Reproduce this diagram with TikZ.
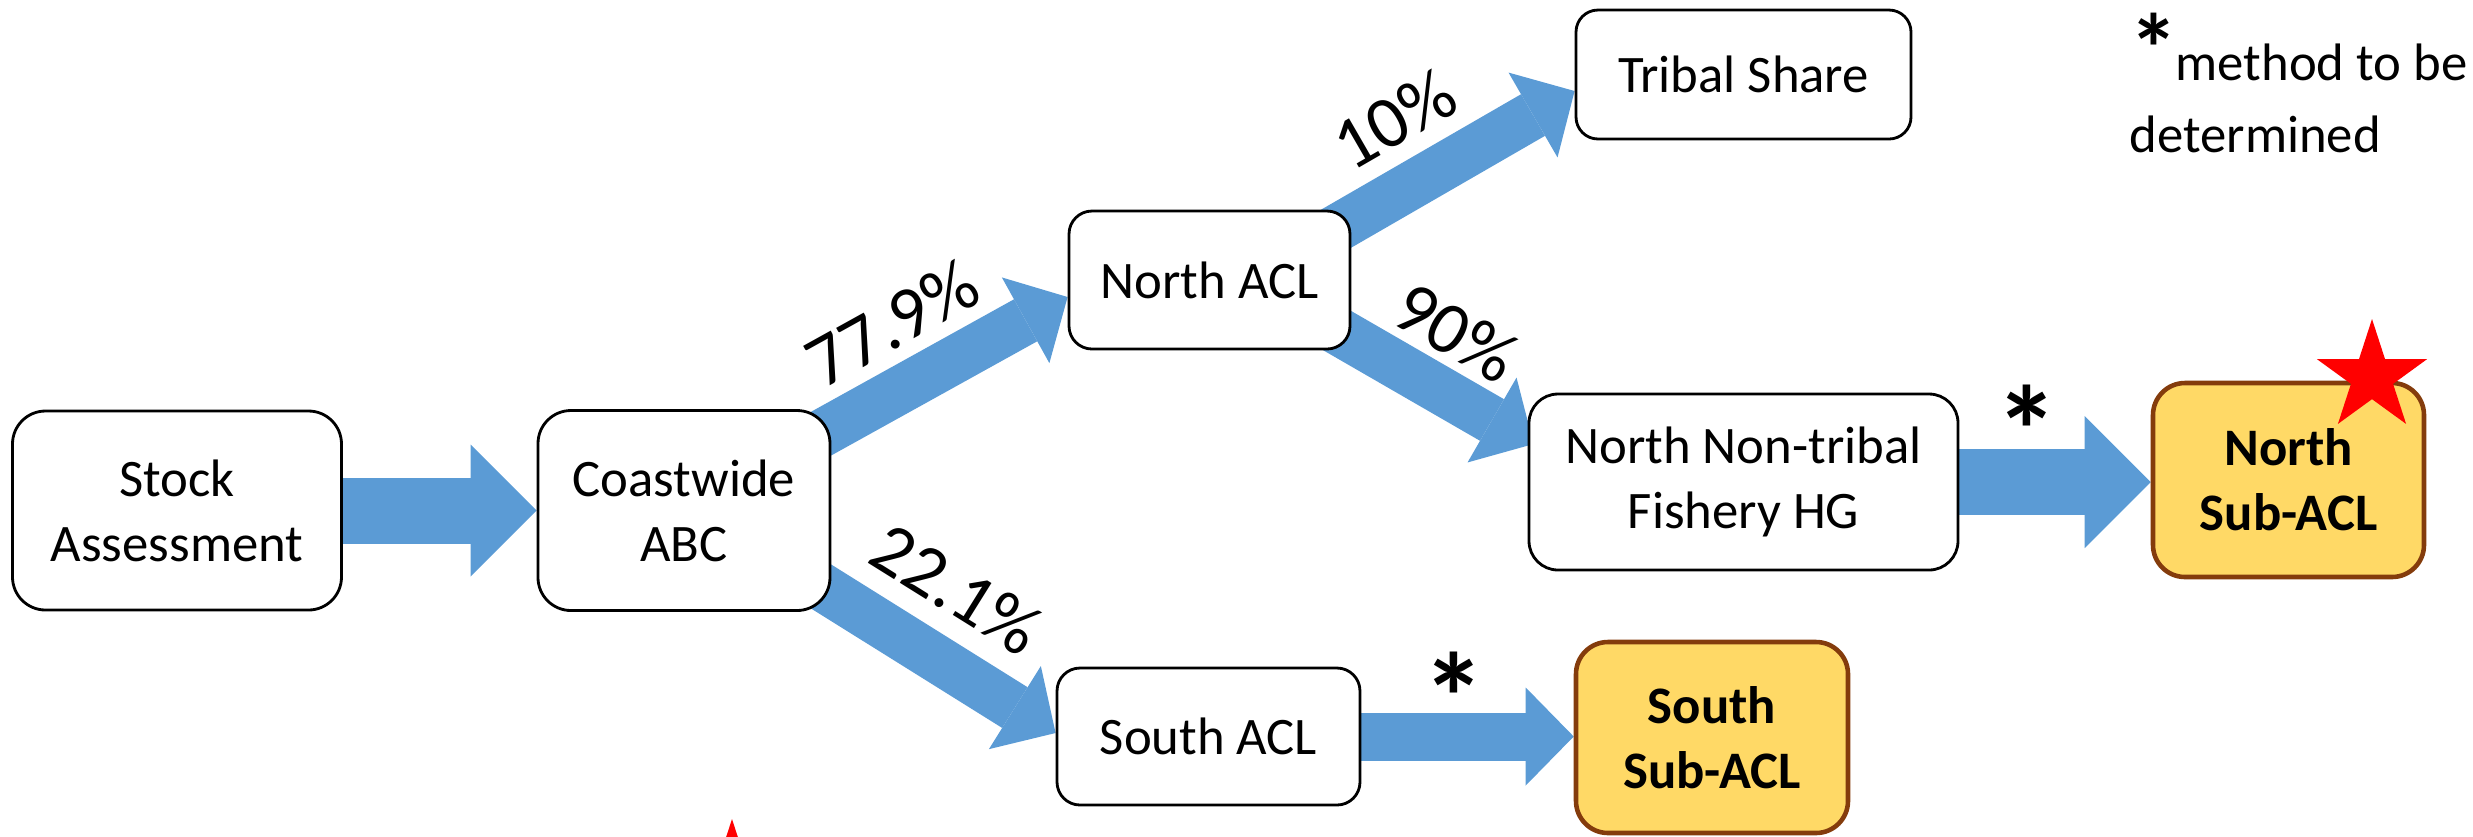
\documentclass[tikz,border=0pt]{standalone}
\usepackage{fontspec}
\setmainfont{Carlito}
\usetikzlibrary{arrows.meta,calc,backgrounds}
\definecolor{arrblue}{RGB}{91,155,213}
\definecolor{gold}{RGB}{255,217,102}
\definecolor{brownedge}{RGB}{132,60,12}
\tikzset{
  box/.style={draw=black, line width=0.8pt, fill=white, align=center,
    font=\fontsize{15}{18.5}\selectfont, inner sep=0pt, rounded corners=#1},
  box/.default=0.3cm,
  subbox/.style={draw=brownedge, line width=1.3pt, fill=gold, align=center,
    font=\fontsize{15}{18.5}\selectfont\bfseries, inner sep=0pt, rounded corners=#1},
  subbox/.default=0.32cm,
  bigflow/.style={color=arrblue, line width=0.66cm,
    -{Triangle[width=1.32cm,length=0.66cm,line width=0pt]}},
  smallflow/.style={color=arrblue, line width=0.48cm,
    -{Triangle[width=0.98cm,length=0.48cm,line width=0pt]}},
  pct/.style={font=\fontsize{21}{25}\selectfont, inner sep=0pt},
  ast/.style={font=\fontsize{36}{36}\selectfont\bfseries, inner sep=0pt},
  legend/.style={font=\fontsize{15}{18.5}\selectfont, inner sep=0pt, anchor=base west},
  redstar/.style={fill=red},
}
\begin{document}
\begin{tikzpicture}
\useasboundingbox (0,0) rectangle (24.73,-8.36);

% boxes
\node[box=0.33cm, minimum width=3.29cm, minimum height=1.99cm] (sa) at (1.77,-5.105) {Stock\\Assessment};
\node[box=0.33cm, minimum width=2.92cm, minimum height=2.0cm] (cw) at (6.84,-5.105) {Coastwide\\ABC};
\node[box=0.23cm, minimum width=2.81cm, minimum height=1.38cm] (nacl) at (12.095,-2.80) {North ACL};
\node[box=0.22cm, minimum width=3.35cm, minimum height=1.29cm] (tribal) at (17.435,-0.745) {Tribal Share};
\node[box=0.29cm, minimum width=4.29cm, minimum height=1.76cm] (nnt) at (17.435,-4.82) {North Non-tribal\\Fishery HG};
\node[subbox, minimum width=2.71cm, minimum height=1.94cm] (nsub) at (22.885,-4.80) {North\\Sub-ACL};
\node[box=0.23cm, minimum width=3.03cm, minimum height=1.37cm] (sacl) at (12.085,-7.365) {South ACL};
\node[subbox, minimum width=2.72cm, minimum height=1.91cm] (ssub) at (17.12,-7.375) {South\\Sub-ACL};

% arrow end points
\coordinate (t1) at ($(nacl.west)+(0,-0.17)$);
\coordinate (s1) at ($(t1)+(209:3.1)$);
\coordinate (t2) at ($(tribal.west)+(0,-0.165)$);
\coordinate (s2) at ($(t2)+(210:3.3)$);
\coordinate (t3) at ($(nnt.west)+(0.06,0.38)$);
\coordinate (s3) at ($(t3)+(150:3.0)$);
\coordinate (t4) at ($(sacl.west)+(0,0.035)$);
\coordinate (s4) at ($(t4)+(148:3.0)$);

\begin{scope}[on background layer]
  \draw[bigflow] (sa.east) -- (cw.west);
  \draw[bigflow] (nnt.east) -- (nnt.east -| nsub.west);
  \draw[smallflow] (sacl.east) -- (sacl.east -| ssub.west);
  \draw[smallflow] (s1) -- (t1);
  \draw[smallflow] (s2) -- (t2);
  \draw[smallflow] (s3) -- (t3);
  \draw[smallflow] (s4) -- (t4);
\end{scope}

% percentage labels
\node[pct, rotate=29] (p779) at (8.92,-3.23) {77.9\%};
\node[pct, rotate=30] (p10) at (13.94,-1.19) {10\%};
\node[pct, rotate=-30] (p90) at (14.56,-3.32) {90\%};
\node[pct, rotate=-32] (p221) at (9.57,-5.89) {22.1\%};

% asterisks
\node[ast] (ast1) at (20.27,-4.30) {*};
\node[ast] (ast2) at (14.54,-6.97) {*};

% legend
\node[legend] (leg1) at (21.29,-0.80) {\raisebox{-0.03cm}{\fontsize{28}{28}\selectfont\bfseries *}\hspace{-0.03cm}method to be};
\node[legend] (leg2) at (21.29,-1.52) {determined};

% stars
\fill[redstar, shift={(23.72,-3.77)}] (90:0.58) -- (126:0.2215) -- (162:0.58) -- (198:0.2215) -- (234:0.58) -- (270:0.2215) -- (306:0.58) -- (342:0.2215) -- (18:0.58) -- (54:0.2215) -- cycle;
\begin{scope}
  \clip (0,0) rectangle (24.73,-8.36);
  \fill[redstar, shift={(7.32,-8.77)}] (90:0.58) -- (126:0.2215) -- (162:0.58) -- (198:0.2215) -- (234:0.58) -- (270:0.2215) -- (306:0.58) -- (342:0.2215) -- (18:0.58) -- (54:0.2215) -- cycle;
\end{scope}
\end{tikzpicture}
\end{document}
